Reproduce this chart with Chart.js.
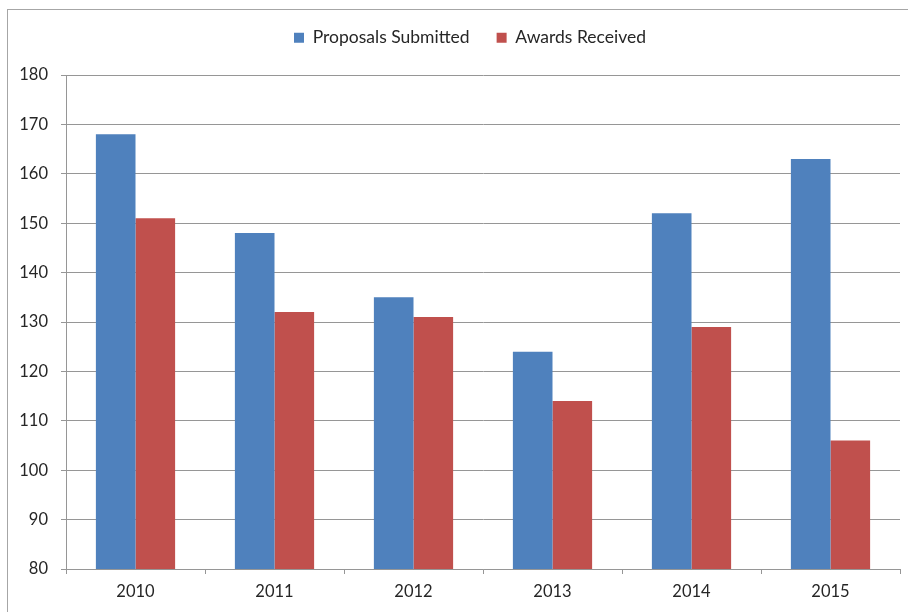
<!DOCTYPE html>
<html>
<head>
<meta charset="utf-8">
<title>Proposals and Awards</title>
<script src="https://cdn.jsdelivr.net/npm/chart.js@4/dist/chart.umd.min.js"></script>
<style>
  html, body { margin: 0; padding: 0; background: #fff; }
  #wrap { position: relative; width: 908px; height: 612px; overflow: hidden; }
  #frame {
    position: absolute; left: 7px; top: 9px; width: 940px; height: 640px;
    border: 1.5px solid #a6a6a6; box-sizing: border-box;
  }
  #chart { position: absolute; left: 0; top: 0; }
</style>
</head>
<body>
<div id="wrap">
  <div id="frame"></div>
  <canvas id="chart" width="908" height="612"></canvas>
</div>
<script>
const years = ["2010", "2011", "2012", "2013", "2014", "2015"];
const proposalsSubmitted = [168, 148, 135, 124, 152, 163];
const awardsReceived = [151, 132, 131, 114, 129, 106];
const yTicks = { min: 80, max: 180, step: 10 };

const FONT = "Lato, 'Open Sans', sans-serif";
const gridGray = "#969696";
const textColor = "#262626";

// fixed legend height so the plot starts at the same place every time,
// and the legend row sits a little right of the canvas centre
const legendTweak = {
  id: "legendTweak",
  beforeInit(chart) {
    const fit = chart.legend.fit;
    chart.legend.fit = function () {
      fit.bind(chart.legend)();
      this.height = 73;
    };
  },
  afterLayout(chart) {
    chart.legend.left += 20;
    chart.legend.right += 20;
  }
};

const ctx = document.getElementById("chart").getContext("2d");

const chart = new Chart(ctx, {
  type: "bar",
  data: {
    labels: years,
    datasets: [
      {
        label: "Proposals Submitted",
        data: proposalsSubmitted,
        backgroundColor: "#4f81bd",
        categoryPercentage: 0.57,
        barPercentage: 1.0
      },
      {
        label: "Awards Received",
        data: awardsReceived,
        backgroundColor: "#c0504d",
        categoryPercentage: 0.57,
        barPercentage: 1.0
      }
    ]
  },
  options: {
    responsive: false,
    animation: false,
    layout: { padding: { top: 2, left: 0, right: 8, bottom: 0 } },
    plugins: {
      legend: {
        position: "top",
        labels: {
          boxWidth: 10,
          boxHeight: 10,
          padding: 27,
          color: textColor,
          font: { family: FONT, size: 17.5 }
        }
      },
      tooltip: { enabled: false }
    },
    scales: {
      x: {
        grid: {
          drawOnChartArea: false,
          drawTicks: true,
          tickLength: 5,
          color: gridGray,
          offset: true
        },
        border: { color: gridGray, width: 1 },
        ticks: {
          color: textColor,
          padding: 8,
          font: { family: FONT, size: 16.5 }
        },
        afterFit(scale) { scale.height = 43; }
      },
      y: {
        min: yTicks.min,
        max: yTicks.max,
        grid: {
          color: gridGray,
          lineWidth: 1,
          tickLength: 5
        },
        border: { color: gridGray, width: 1 },
        ticks: {
          stepSize: yTicks.step,
          color: textColor,
          padding: 13,
          font: { family: FONT, size: 16.5 }
        },
        afterFit(scale) { scale.width = 66; }
      }
    }
  },
  plugins: [legendTweak]
});
</script>
</body>
</html>
